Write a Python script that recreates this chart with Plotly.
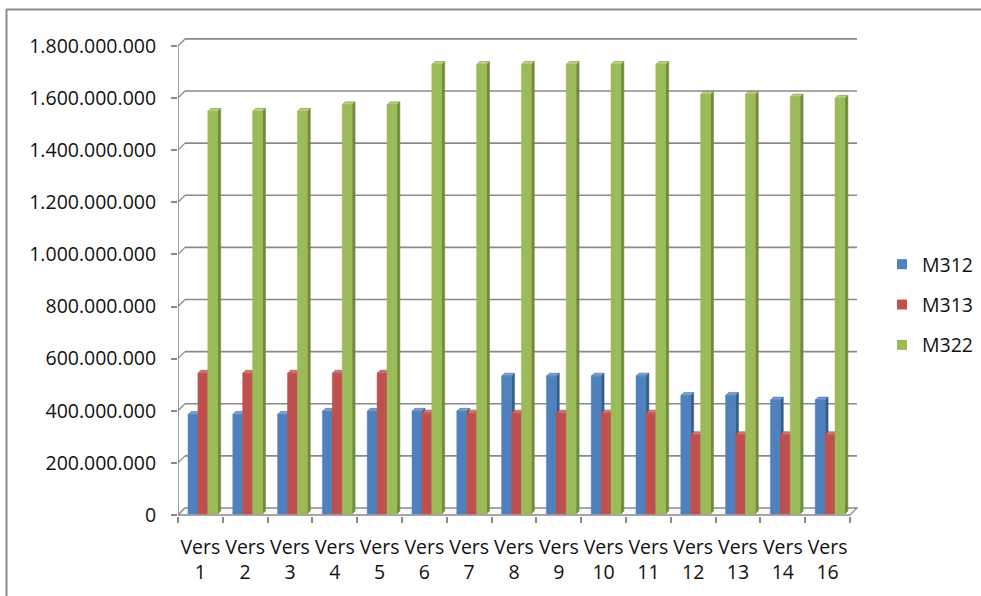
import plotly.graph_objects as go

# ---- data -------------------------------------------------------------
categories = ["Vers 1", "Vers 2", "Vers 3", "Vers 4", "Vers 5", "Vers 6", "Vers 7",
              "Vers 8", "Vers 9", "Vers 10", "Vers 11", "Vers 12", "Vers 13",
              "Vers 14", "Vers 16"]
tick_labels = ["Vers<br>1", "Vers<br>2", "Vers<br>3", "Vers<br>4", "Vers<br>5",
               "Vers<br>6", "Vers<br>7", "Vers<br>8", "Vers<br>9", "Vers<br>10",
               "Vers<br>11", "Vers<br>12", "Vers<br>13", "Vers<br>14", "Vers<br>16"]

m312 = [382e6, 382e6, 382e6, 394e6, 394e6, 394e6, 394e6, 529e6,
        529e6, 529e6, 529e6, 455e6, 455e6, 437e6, 437e6]
m313 = [540e6, 540e6, 540e6, 540e6, 540e6, 387e6, 387e6, 387e6,
        387e6, 387e6, 387e6, 304e6, 304e6, 304e6, 304e6]
m322 = [1545e6, 1545e6, 1545e6, 1570e6, 1570e6, 1725e6, 1725e6, 1725e6,
        1725e6, 1725e6, 1725e6, 1610e6, 1610e6, 1600e6, 1595e6]

series_names = ["M312", "M313", "M322"]
series_values = [m312, m313, m322]

y_ticks = [0, 200e6, 400e6, 600e6, 800e6, 1000e6, 1200e6, 1400e6, 1600e6, 1800e6]
y_tick_text = ["0", "200.000.000", "400.000.000", "600.000.000", "800.000.000",
               "1.000.000.000", "1.200.000.000", "1.400.000.000",
               "1.600.000.000", "1.800.000.000"]

# ---- styling ----------------------------------------------------------
front_colors = ["#4F81BD", "#C0504D", "#9BBB59"]
side_colors = ["#375D8B", "#8E3A37", "#6F8A3C"]
top_colors = ["#7AA0D2", "#D27774", "#B5D07E"]
grid_color = "#8A8A8A"
font_family = "Open Sans, Liberation Sans, sans-serif"

W, H = 981, 596
PLOT_L, PLOT_R, PLOT_T, PLOT_B = 178, 858, 38, 516

# pixel scales of the pseudo-3D projection
PX_PER_CAT = 44.8
PX_PER_VAL = 260.6 / 1e9
DX = 1.0 / PX_PER_CAT          # x-units per pixel
DY = 1.0 / PX_PER_VAL          # y-units per pixel
DEPTH = 7                      # depth of floor / wall in pixels
BAR_DEPTH = 3                  # depth of each column in pixels
BAR_W = 9.9                    # front-face width of one column in pixels
BAR_START = 10                 # first column offset inside a category, pixels

n = len(categories)
x_min = -0.5
x_max = x_min + (PLOT_R - PLOT_L) * DX
y_min = -1 * DY
y_max = y_min + (PLOT_B - PLOT_T) * DY
y_top = y_ticks[-1]

fig = go.Figure()


def polys_to_xy(polys):
    xs, ys = [], []
    for p in polys:
        for (a, b) in p + [p[0]]:
            xs.append(a)
            ys.append(b)
        xs.append(None)
        ys.append(None)
    return xs, ys


def add_poly(polys, color, line_color=None):
    xs, ys = polys_to_xy(polys)
    fig.add_trace(go.Scatter(
        x=xs, y=ys, mode="lines", fill="toself", fillcolor=color,
        line=dict(color=line_color or color, width=0.5),
        hoverinfo="skip", showlegend=False))


# columns: side face, top face, front face for each series in turn
for s, vals in enumerate(series_values):
    sides, tops, fronts = [], [], []
    for i, v in enumerate(vals):
        xl = i - 0.5 + (BAR_START + s * BAR_W) * DX
        xr = xl + BAR_W * DX
        yb = 1 * DY
        yt = v + 1 * DY
        ddx, ddy = BAR_DEPTH * DX, BAR_DEPTH * DY
        fronts.append([(xl, yb), (xr, yb), (xr, yt), (xl, yt)])
        sides.append([(xr, yb), (xr + ddx, yb + ddy), (xr + ddx, yt + ddy), (xr, yt)])
        tops.append([(xl, yt), (xr, yt), (xr + ddx, yt + ddy), (xl + ddx, yt + ddy)])
    add_poly(sides, side_colors[s])
    add_poly(tops, top_colors[s], side_colors[s])
    add_poly(fronts, front_colors[s])

# legend entries
for s, name in enumerate(series_names):
    fig.add_trace(go.Scatter(
        x=[None], y=[None], mode="markers", name=name, legendgroup=name,
        marker=dict(symbol="square", size=10, color=front_colors[s])))

# back wall gridlines, side-wall diagonals, floor and front axis line
shapes = []
ox, oy = DEPTH * DX, DEPTH * DY
for t in y_ticks:
    if t > 0:
        shapes.append(dict(type="line", xref="x", yref="y", layer="below",
                           x0=x_min + ox, x1=n - 0.5 + ox, y0=t + oy, y1=t + oy,
                           line=dict(color=grid_color, width=1.6)))
    shapes.append(dict(type="line", xref="x", yref="y", layer="below",
                       x0=x_min, x1=x_min + ox, y0=t, y1=t + oy,
                       line=dict(color=grid_color, width=1.3)))
shapes.append(dict(type="path", xref="x", yref="y", layer="below",
                   path=(f"M{x_min},0 L{n - 0.5},0 L{n - 0.5 + ox},{oy} "
                         f"L{x_min + ox},{oy} Z"),
                   fillcolor="#F7F7F7", line=dict(color=grid_color, width=1.3)))
shapes.append(dict(type="line", xref="x", yref="y", layer="below",
                   x0=x_min, x1=x_min, y0=0, y1=y_top,
                   line=dict(color=grid_color, width=1.6)))

# outer chart frame
def px_to_paper_x(px):
    return (px - PLOT_L) / (PLOT_R - PLOT_L)


def px_to_paper_y(py):
    return (PLOT_B - py) / (PLOT_B - PLOT_T)


shapes.append(dict(type="line", xref="paper", yref="paper",
                   x0=px_to_paper_x(6), x1=px_to_paper_x(1000),
                   y0=px_to_paper_y(9.5), y1=px_to_paper_y(9.5),
                   line=dict(color="#8C8C8C", width=2)))
shapes.append(dict(type="line", xref="paper", yref="paper",
                   x0=px_to_paper_x(6.5), x1=px_to_paper_x(6.5),
                   y0=px_to_paper_y(9.5), y1=px_to_paper_y(620),
                   line=dict(color="#8C8C8C", width=2)))

fig.update_layout(
    width=W, height=H, autosize=False,
    margin=dict(l=PLOT_L, r=W - PLOT_R, t=PLOT_T, b=H - PLOT_B, pad=0,
                autoexpand=False),
    paper_bgcolor="white", plot_bgcolor="rgba(0,0,0,0)",
    font=dict(family=font_family, size=19.5, color="#111111"),
    shapes=shapes,
    showlegend=True,
    legend=dict(x=px_to_paper_x(882), xanchor="left",
                y=px_to_paper_y(305), yanchor="middle",
                tracegroupgap=12, font=dict(size=19.5),
                bgcolor="rgba(0,0,0,0)"),
    xaxis=dict(range=[x_min, x_max], showgrid=False, zeroline=False,
               showline=False, tickmode="array",
               tickvals=list(range(n)), ticktext=tick_labels,
               ticks="", ticklabelstandoff=17,
               minor=dict(tickmode="array",
                          tickvals=[k - 0.5 for k in range(n + 1)],
                          ticks="outside", ticklen=6, tickwidth=1.5,
                          tickcolor=grid_color, showgrid=False),
               fixedrange=True),
    yaxis=dict(range=[y_min, y_max], showgrid=False, zeroline=False,
               showline=False, tickmode="array", tickvals=y_ticks,
               ticktext=y_tick_text, ticks="outside", ticklen=6,
               tickwidth=1.5, tickcolor=grid_color, ticklabelstandoff=11,
               fixedrange=True),
)

fig.write_html("out.html")
